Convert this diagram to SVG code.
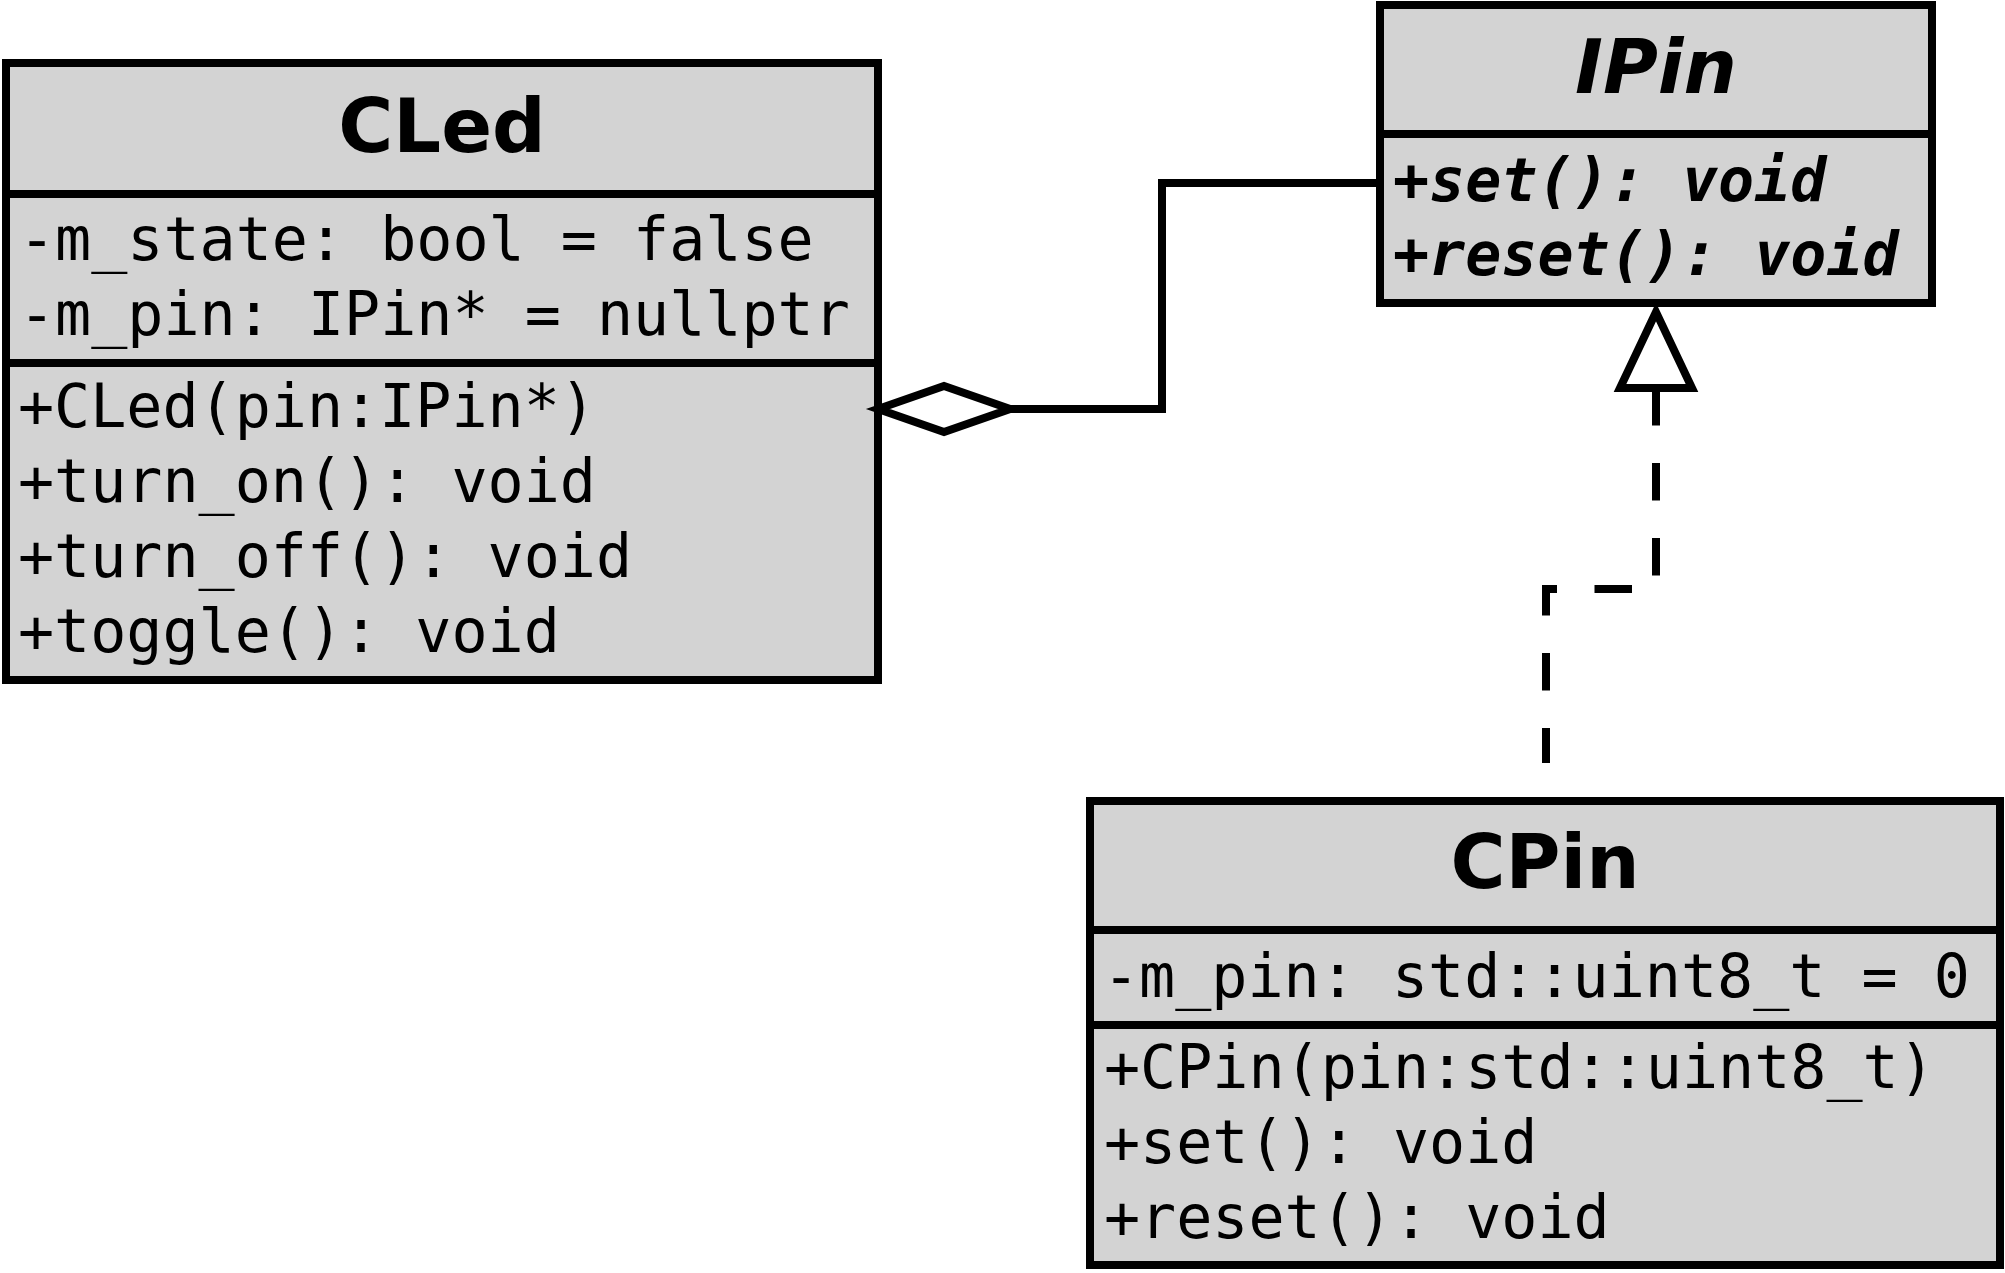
<svg xmlns="http://www.w3.org/2000/svg" width="2005" height="1273" viewBox="0 0 2005 1273">
<style>
.box{fill:#d3d3d3;stroke:#000;stroke-width:8}
.div{stroke:#000;stroke-width:8}
.title{font-family:"DejaVu Sans",sans-serif;font-weight:bold;font-size:75px;text-anchor:middle;fill:#000}
.mono{font-family:"DejaVu Sans Mono",monospace;font-size:60px;fill:#000}
.abs{font-style:italic;font-weight:bold}
.edge{fill:none;stroke:#000;stroke-width:8}
</style>
<rect width="2005" height="1273" fill="#fff"/>
<g id="CLed">
<rect class="box" x="6" y="63" width="872" height="617"/>
<line class="div" x1="6" y1="194" x2="878" y2="194"/>
<line class="div" x1="6" y1="363" x2="878" y2="363"/>
<text class="title" x="442" y="152">CLed</text>
<text class="mono" x="19" y="260">-m_state: bool = false</text>
<text class="mono" x="19" y="335">-m_pin: IPin* = nullptr</text>
<text class="mono" x="18" y="427">+CLed(pin:IPin*)</text>
<text class="mono" x="18" y="502">+turn_on(): void</text>
<text class="mono" x="18" y="577">+turn_off(): void</text>
<text class="mono" x="18" y="652">+toggle(): void</text>
</g>
<g id="IPin">
<rect class="box" x="1380" y="5" width="552" height="298"/>
<line class="div" x1="1380" y1="134" x2="1932" y2="134"/>
<text class="title abs" x="1656" y="93">IPin</text>
<text class="mono abs" x="1393" y="201">+set(): void</text>
<text class="mono abs" x="1393" y="275">+reset(): void</text>
</g>
<g id="CPin">
<rect class="box" x="1090" y="801" width="910" height="464"/>
<line class="div" x1="1090" y1="930" x2="2000" y2="930"/>
<line class="div" x1="1090" y1="1025" x2="2000" y2="1025"/>
<text class="title" x="1545" y="888">CPin</text>
<text class="mono" x="1103" y="997">-m_pin: std::uint8_t = 0</text>
<text class="mono" x="1104" y="1088">+CPin(pin:std::uint8_t)</text>
<text class="mono" x="1104" y="1163">+set(): void</text>
<text class="mono" x="1104" y="1238">+reset(): void</text>
</g>
<g id="connectors">
<polyline class="edge" points="1380,183 1162,183 1162,409 1010,409"/>
<polygon class="edge" style="fill:#fff" points="878,409 944,386 1010,409 944,432"/>
<path class="edge" d="M1656,388 V589 H1546 V763" stroke-dasharray="37.5 37.5"/>
<polygon class="edge" style="fill:#fff" points="1656,312 1620,388 1692,388"/>
</g>
</svg>
